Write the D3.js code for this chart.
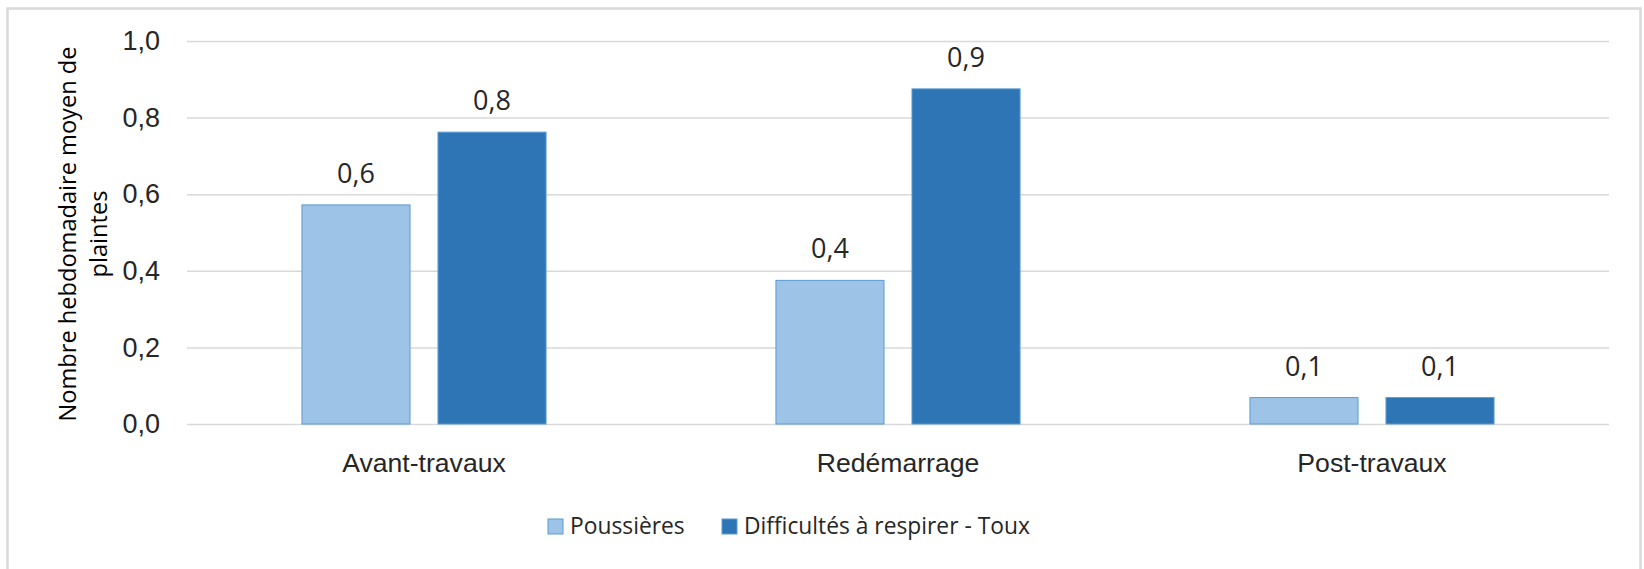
<!DOCTYPE html>
<html>
<head>
<meta charset="utf-8">
<script src="https://cdn.jsdelivr.net/npm/d3@7"></script>
<style>
  body { margin: 0; background: #fff; }
  svg { display: block; font-family: "Open Sans", sans-serif; }
</style>
</head>
<body>
<div id="chart-area"></div>
<script>
// Data
var categories = ["Avant-travaux", "Redémarrage", "Post-travaux"];
var seriesNames = ["Poussières", "Difficultés à respirer - Toux"];
var poussieres = [0.572, 0.375, 0.069];
var difficultes = [0.762, 0.875, 0.069];
var yTicks = [0, 0.2, 0.4, 0.6, 0.8, 1.0];
var colors = ["#9DC3E6", "#2E75B6"];

var W = 1644, H = 569;
var margin = { top: 41, right: 35, bottom: 145, left: 187 },
    width  = W - margin.left - margin.right,
    height = H - margin.top - margin.bottom;

var svg = d3.select("#chart-area")
    .append("svg")
    .attr("width", W)
    .attr("height", H);

// chart border
svg.append("rect")
    .attr("x", 7.5).attr("y", 8.5)
    .attr("width", 1633).attr("height", 600)
    .attr("fill", "none")
    .attr("stroke", "#D9D9D9")
    .attr("stroke-width", 2.5);

var g = svg.append("g")
    .attr("transform", "translate(" + margin.left + "," + margin.top + ")");

var xScale = d3.scaleBand()
    .domain(categories)
    .range([0, width]);

// Excel style: two bars with a small gap, centred in the band
var barW = xScale.bandwidth() * 0.228;
var innerGap = xScale.bandwidth() * 0.059;
var xSub = d3.scaleBand()
    .domain([0, 1])
    .range([0, barW * 2 + innerGap])
    .paddingInner(innerGap / (barW + innerGap));

var yScale = d3.scaleLinear()
    .domain([0, 1])
    .range([height, 0]);

var fmt = function(v) { return d3.format(".1f")(v).replace(".", ","); };

// gridlines
g.append("g")
    .attr("class", "grid")
    .call(d3.axisLeft(yScale).tickValues(yTicks).tickSize(-width).tickFormat(""))
    .call(function(s) {
        s.select(".domain").remove();
        s.selectAll("line").attr("stroke", "#D9D9D9").attr("stroke-width", 1.5);
    });

// y tick labels
g.append("g")
    .call(d3.axisLeft(yScale).tickValues(yTicks).tickSize(0).tickPadding(27).tickFormat(fmt))
    .call(function(s) {
        s.select(".domain").remove();
        s.selectAll("text")
            .attr("fill", "#262626")
            .style("font-size", "27px");
    });

// x labels
g.append("g")
    .attr("transform", "translate(0," + height + ")")
    .call(d3.axisBottom(xScale).tickSize(0).tickPadding(29))
    .call(function(s) {
        s.select(".domain").remove();
        s.selectAll("text")
            .attr("fill", "#262626")
            .style("font-size", "26.6px");
    });

var data = [];
categories.forEach(function(c, i) {
    data.push({ cat: c, s: 0, v: poussieres[i] });
    data.push({ cat: c, s: 1, v: difficultes[i] });
});

var groupOffset = (xScale.bandwidth() - xSub.range()[1]) / 2;

g.selectAll(".bar")
    .data(data)
    .enter()
    .append("rect")
    .attr("class", "bar")
    .attr("x", function(d) { return xScale(d.cat) + groupOffset + xSub(d.s); })
    .attr("width", xSub.bandwidth())
    .attr("y", function(d) { return yScale(d.v); })
    .attr("height", function(d) { return height - yScale(d.v); })
    .attr("fill", function(d) { return colors[d.s]; })
    .attr("stroke", "#5B9BD5")
    .attr("stroke-width", 1);

// value labels
g.selectAll(".lbl")
    .data(data)
    .enter()
    .append("text")
    .attr("class", "lbl")
    .attr("x", function(d) { return xScale(d.cat) + groupOffset + xSub(d.s) + xSub.bandwidth() / 2; })
    .attr("y", function(d) { return yScale(d.v) - 22; })
    .attr("text-anchor", "middle")
    .attr("fill", "#262626")
    .style("font-size", "27px")
    .text(function(d) { return fmt(d.v); });

// y axis title
var yTitle = svg.append("text")
    .attr("transform", "translate(76,234) rotate(-90)")
    .attr("text-anchor", "middle")
    .attr("fill", "#000")
    .style("font-size", "23.6px");
yTitle.append("tspan").attr("x", 0).attr("dy", 0).text("Nombre hebdomadaire moyen de");
yTitle.append("tspan").attr("x", 0).attr("dy", 31).text("plaintes");

// legend
var legend = svg.append("g").attr("transform", "translate(548,519)");
var legX = [0, 174];
seriesNames.forEach(function(name, i) {
    var item = legend.append("g").attr("transform", "translate(" + legX[i] + ",0)");
    item.append("rect")
        .attr("width", 15).attr("height", 15)
        .attr("fill", colors[i])
        .attr("stroke", "#5B9BD5");
    item.append("text")
        .attr("x", 22).attr("y", 15)
        .attr("fill", "#262626")
        .style("font-size", "22.8px")
        .text(name);
});
</script>
</body>
</html>
